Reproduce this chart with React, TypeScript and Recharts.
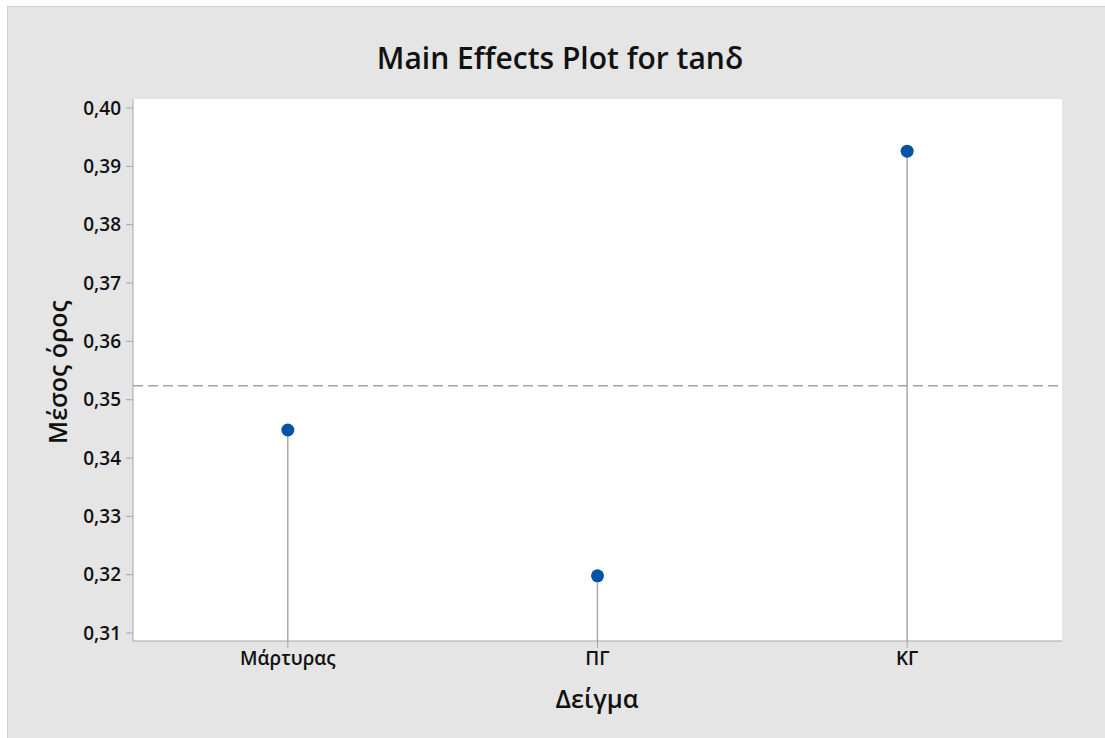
import { ComposedChart, Bar, Line, XAxis, YAxis, ReferenceLine, CartesianGrid } from "recharts"

const samples = ["Μάρτυρας", "ΠΓ", "ΚΓ"]
const meanTan = [0.3448, 0.3198, 0.3926]
const yTicks = [0.31, 0.32, 0.33, 0.34, 0.35, 0.36, 0.37, 0.38, 0.39, 0.4]

const grandMean = meanTan.reduce((a, b) => a + b, 0) / meanTan.length

const data = samples.map((s, i) => ({ sample: s, value: meanTan[i] }))

const FONT = "'Open Sans', 'Noto Sans', sans-serif"
const FRAME = "#a6a6a6"
const fmt = (v: number) => v.toFixed(2).replace(".", ",")

export default function App() {
  return (
    <div
      style={{
        position: "fixed",
        left: 7,
        top: 6,
        width: 1097,
        height: 731,
        background: "#e5e5e5",
        borderLeft: "1px solid #cdcdcd",
        borderTop: "1px solid #cdcdcd",
        fontFamily: FONT,
      }}
    >
      <div
        style={{
          position: "absolute",
          left: 0,
          width: 1104,
          top: 31,
          textAlign: "center",
          fontSize: 30,
          fontWeight: 600,
          color: "#111",
          lineHeight: "40px",
        }}
      >
        Main Effects Plot for tanδ
      </div>

      <ComposedChart width={1097} height={731} data={data} margin={{ top: 92, right: 43, left: 0, bottom: 0 }}>
        <CartesianGrid horizontal={false} vertical={false} fill="#ffffff" />
        <XAxis
          dataKey="sample"
          type="category"
          height={97}
          tickSize={7}
          tickMargin={4}
          stroke={FRAME}
          tick={{ fill: "#111", fontSize: 19, fontWeight: 600, fontFamily: FONT }}
        />
        <XAxis xAxisId="top" orientation="top" dataKey="sample" height={0} tick={false} tickLine={false} stroke={FRAME} />
        <YAxis
          type="number"
          domain={[0.30863, 0.40155]}
          ticks={yTicks}
          tickFormatter={fmt}
          width={125}
          tickSize={7}
          tickMargin={5}
          stroke={FRAME}
          allowDataOverflow
          tick={{ fill: "#111", fontSize: 19, fontWeight: 600, fontFamily: FONT }}
        />
        <YAxis yAxisId="right" orientation="right" width={0} tick={false} tickLine={false} stroke={FRAME} domain={[0.30863, 0.40155]} />
        <ReferenceLine y={grandMean} stroke="#a3a3a3" strokeWidth={1.6} strokeDasharray="10 5" />
        <Bar dataKey="value" barSize={1.5} fill="#a9a9a9" isAnimationActive={false} />
        <Line
          dataKey="value"
          stroke="none"
          dot={{ r: 6.5, fill: "#0054a6", stroke: "none" }}
          activeDot={false}
          isAnimationActive={false}
        />
      </ComposedChart>

      <div
        style={{
          position: "absolute",
          left: 489,
          width: 200,
          top: 674,
          textAlign: "center",
          fontSize: 25,
          fontWeight: 600,
          color: "#111",
          lineHeight: "34px",
        }}
      >
        Δείγμα
      </div>
      <div
        style={{
          position: "absolute",
          left: 49 - 100,
          top: 365 - 17,
          width: 200,
          textAlign: "center",
          fontSize: 25,
          fontWeight: 600,
          color: "#111",
          lineHeight: "34px",
          transform: "rotate(-90deg)",
        }}
      >
        Μέσος όρος
      </div>
    </div>
  )
}
